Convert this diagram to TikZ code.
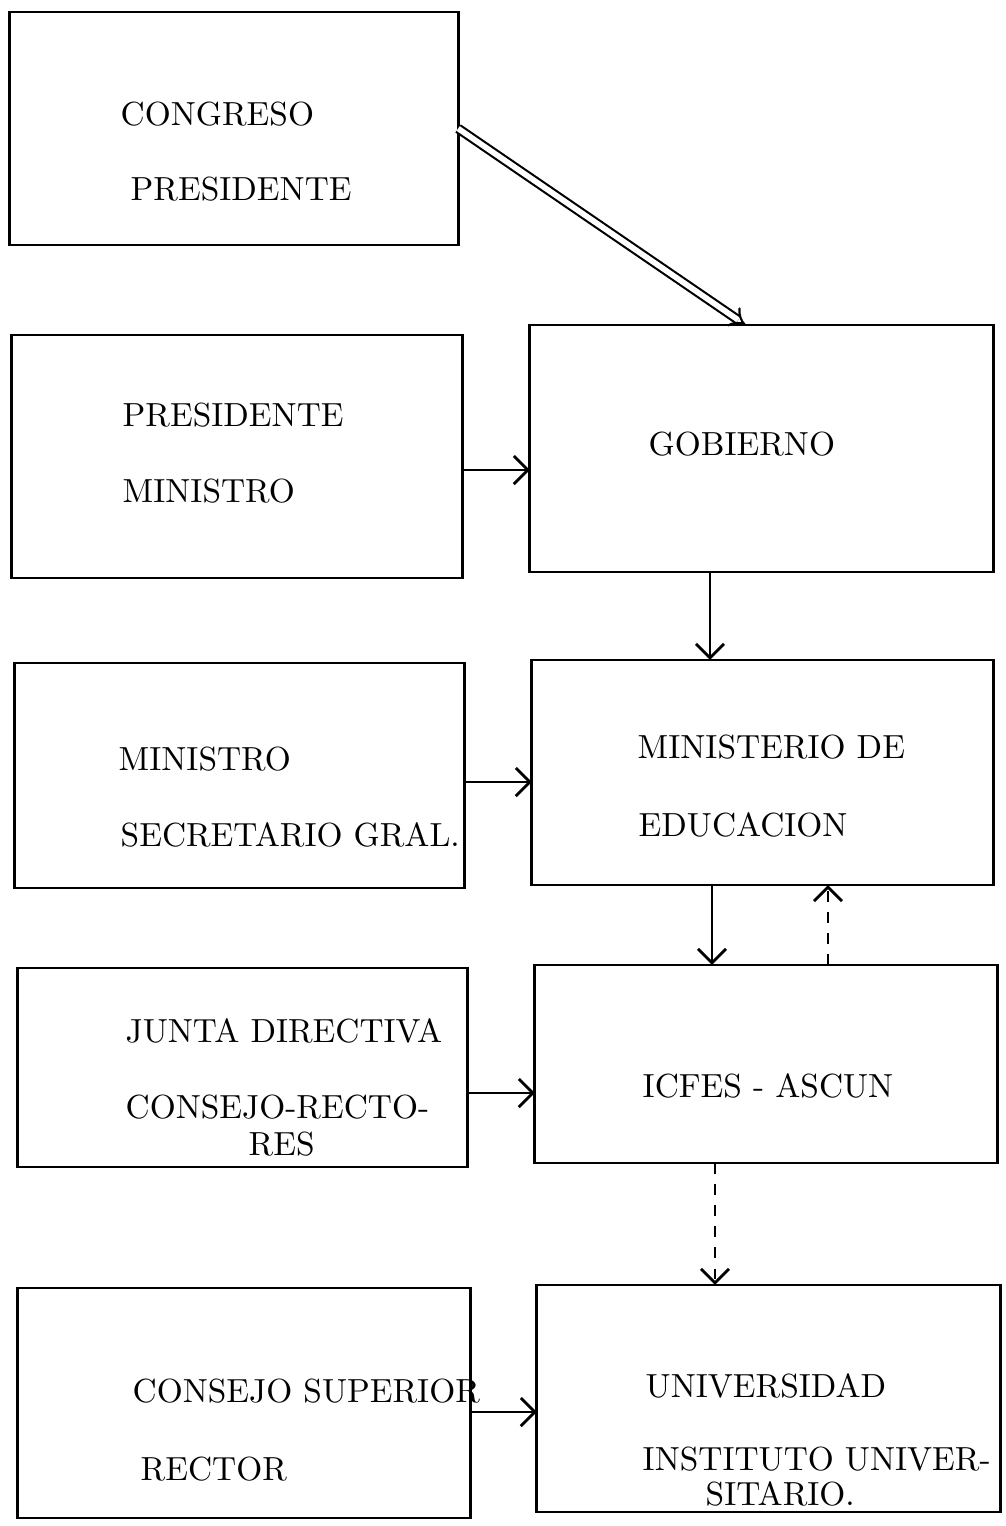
\documentclass[tikz,border=0pt]{standalone}
\usetikzlibrary{arrows.meta}

\tikzset{
  box/.style={draw=black,thick,inner sep=0pt,outer sep=0pt},
  lbl/.style={anchor=base west,inner sep=0pt,font=\fontsize{9.5}{11}\selectfont},
  arr/.style={thick,-{Straight Barb[length=4pt,width=8pt]}},
  dbl/.style={double,double distance=1.6pt,semithick,-{Implies}}
}

\begin{document}
\begin{tikzpicture}[x=0.01cm,y=-0.01cm]
		\useasboundingbox (0,0) rectangle (1005,1526);

		% the left column
		\node[box,minimum width=4.48cm,minimum height=2.33cm] (cong) at (234,128.5) {};
		\node[box,minimum width=4.50cm,minimum height=2.43cm] (pm) at (237,456.5) {};
		\node[box,minimum width=4.49cm,minimum height=2.25cm] (ms) at (239.5,775.5) {};
		\node[box,minimum width=4.49cm,minimum height=1.99cm] (jun) at (242.5,1067.5) {};
		\node[box,minimum width=4.52cm,minimum height=2.30cm] (cs) at (244,1403) {};

		% the right column
		\node[box,minimum width=4.63cm,minimum height=2.47cm] (gob) at (761.5,448.5) {};
		\node[box,minimum width=4.61cm,minimum height=2.25cm] (min) at (762.5,772.5) {};
		\node[box,minimum width=4.62cm,minimum height=1.98cm] (icf) at (766,1064) {};
		\node[box,minimum width=4.63cm,minimum height=2.27cm] (uni) at (768.5,1398.5) {};

		% texts
		\node[lbl] (t1) at (120,125) {CONGRESO};
		\node[lbl] (t2) at (130,200) {PRESIDENTE};
		\node[lbl] (t3) at (122,426) {PRESIDENTE};
		\node[lbl] (t4) at (122,502) {MINISTRO};
		\node[lbl] (t5) at (118,770) {MINISTRO};
		\node[lbl] (t6) at (120,846) {SECRETARIO GRAL.};
		\node[lbl] (t7) at (125,1042) {JUNTA DIRECTIVA};
		\node[lbl] (t8) at (125,1118) {CONSEJO-RECTO-};
		\node[lbl] (t9) at (248,1155) {RES};
		\node[lbl] (t10) at (132,1402) {CONSEJO SUPERIOR};
		\node[lbl] (t11) at (140,1480) {RECTOR};
		\node[lbl] (t12) at (648,455) {GOBIERNO};
		\node[lbl] (t13) at (637,758) {MINISTERIO DE};
		\node[lbl] (t14) at (638,836) {EDUCACION};
		\node[lbl] (t15) at (642,1097) {ICFES - ASCUN};
		\node[lbl] (t16) at (645,1397) {UNIVERSIDAD};
		\node[lbl] (t17) at (642,1470) {INSTITUTO UNIVER-};
		\node[lbl] (t18) at (705,1505) {SITARIO.};

		% double arrow
		\draw[dbl] (cong.east) -- ([xshift=-0.16cm]gob.north);

		% horizontal arrows
		\draw[arr] (pm.east |- 0,470) -- (gob.west |- 0,470);
		\draw[arr] (ms.east |- 0,782) -- (min.west |- 0,782);
		\draw[arr] (jun.east |- 0,1093) -- (icf.west |- 0,1093);
		\draw[arr] (cs.east |- 0,1412) -- (uni.west |- 0,1412);

		% vertical arrows
		\draw[arr] (gob.south -| 710,0) -- (min.north -| 710,0);
		\draw[arr] (min.south -| 712,0) -- (icf.north -| 712,0);
		\draw[arr,dashed] (icf.north -| 828,0) -- (min.south -| 828,0);
		\draw[arr,dashed] (icf.south -| 715,0) -- (uni.north -| 715,0);
	\end{tikzpicture}
\end{document}
